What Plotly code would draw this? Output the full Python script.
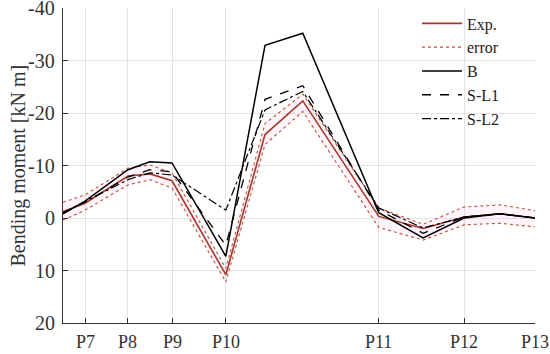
import plotly.graph_objects as go

# positions along the span (arbitrary units), and station labels
x_pos = [0, 4.66, 13.77, 18.4, 23.1, 34.5, 42.8, 50.8, 66.9, 76.3, 85.0, 92.6, 100]
tick_pos = [4.66, 13.77, 23.1, 34.5, 66.9, 85.0, 100]
tick_labels = ["P7", "P8", "P9", "P10", "P11", "P12", "P13"]
y_ticks = [-40, -30, -20, -10, 0, 10, 20]

exp_vals = [-1.2, -2.8, -8.0, -8.4, -7.1, 10.8, -15.9, -22.3, -0.3, 2.0, -0.2, -0.8, 0.0]
err_upper = [-3.0, -4.4, -9.5, -10.1, -8.6, 9.6, -18.0, -23.6, -1.9, 1.2, -2.1, -2.5, -1.4]
err_lower = [0.4, -1.5, -6.3, -7.3, -5.7, 12.2, -14.0, -20.3, 1.8, 4.2, 1.3, 1.0, 1.7]
b_vals = [-0.8, -3.2, -9.2, -10.7, -10.5, 7.3, -32.9, -35.2, -1.0, 3.8, 0.0, -0.8, 0.0]
sl1_vals = [-0.9, -3.0, -7.8, -9.2, -8.8, 5.2, -22.6, -25.2, -1.5, 2.9, -0.2, -0.8, 0.0]
sl2_vals = [-1.0, -3.1, -7.3, -8.6, -8.2, -1.5, -20.6, -24.1, -1.9, 1.9, -0.2, -0.8, 0.0]

red = "#A3392A"
err_col = "#C0503A"
FONT = "Times New Roman"
txt_col = "#333333"

fig = go.Figure()

# faint pink band around the experimental curve
fig.add_trace(go.Scatter(x=x_pos, y=err_lower, mode="lines", line=dict(width=0),
                         showlegend=False, hoverinfo="skip"))
fig.add_trace(go.Scatter(x=x_pos, y=err_upper, mode="lines", line=dict(width=0),
                         fill="tonexty", fillcolor="rgba(255,120,200,0.08)",
                         showlegend=False, hoverinfo="skip"))

fig.add_trace(go.Scatter(x=x_pos, y=exp_vals, mode="lines", name="Exp.",
                         line=dict(color=red, width=1.6)))
fig.add_trace(go.Scatter(x=x_pos, y=err_upper, mode="lines", name="error",
                         legendgroup="err",
                         line=dict(color=err_col, width=1.1, dash="dot")))
fig.add_trace(go.Scatter(x=x_pos, y=err_lower, mode="lines", name="error",
                         legendgroup="err", showlegend=False,
                         line=dict(color=err_col, width=1.1, dash="dot")))
fig.add_trace(go.Scatter(x=x_pos, y=b_vals, mode="lines", name="B",
                         line=dict(color="black", width=1.5)))
fig.add_trace(go.Scatter(x=x_pos, y=sl1_vals, mode="lines", name="S-L1",
                         line=dict(color="black", width=1.3, dash="dash")))
fig.add_trace(go.Scatter(x=x_pos, y=sl2_vals, mode="lines", name="S-L2",
                         line=dict(color="black", width=1.2, dash="dashdot")))

fig.update_layout(
    width=550, height=354,
    margin=dict(l=63, r=15, t=8, b=31, autoexpand=False),
    paper_bgcolor="white", plot_bgcolor="white",
    font=dict(family=FONT, size=17, color=txt_col),
    showlegend=True,
    legend=dict(x=0.75, y=1.005, xanchor="left", yanchor="top",
                bgcolor="rgba(255,255,255,0)", borderwidth=0,
                font=dict(family=FONT, size=16, color="#222222"),
                tracegroupgap=0, itemwidth=40),
)
fig.update_xaxes(range=[0, 100], tickmode="array", tickvals=tick_pos,
                 showticklabels=False,
                 showgrid=True, gridcolor="#E3E3E3", gridwidth=1,
                 showline=True, linecolor="#333333", linewidth=1,
                 ticks="inside", ticklen=5, tickcolor="#333333", automargin=False,
                 zeroline=False)
fig.update_yaxes(range=[20, -40], tickmode="array", tickvals=y_ticks,
                 showticklabels=False,
                 showgrid=True, gridcolor="#E3E3E3", gridwidth=1,
                 showline=True, linecolor="#333333", linewidth=1,
                 ticks="inside", ticklen=5, tickcolor="#333333", automargin=False,
                 zeroline=False)

# tick labels as annotations (serif font)
for xv, lab in zip(tick_pos, tick_labels):
    fig.add_annotation(x=xv, xref="x", y=0, yref="paper", text=lab, showarrow=False,
                       xanchor="center", yanchor="middle", yshift=-19,
                       font=dict(family=FONT, size=18, color=txt_col))
for yv in y_ticks:
    fig.add_annotation(x=0, xref="paper", y=yv, yref="y", text=str(yv), showarrow=False,
                       xanchor="right", yanchor="middle", xshift=-6,
                       font=dict(family=FONT, size=20, color=txt_col))
fig.add_annotation(x=0, xref="paper", y=0.5, yref="paper", text="Bending moment [kN m]",
                   showarrow=False, textangle=-90, xanchor="center", yanchor="middle",
                   xshift=-45, font=dict(family=FONT, size=20, color=txt_col))

fig.write_html("out.html", config={"displayModeBar": False},
               post_script="document.body.style.margin='0';")
